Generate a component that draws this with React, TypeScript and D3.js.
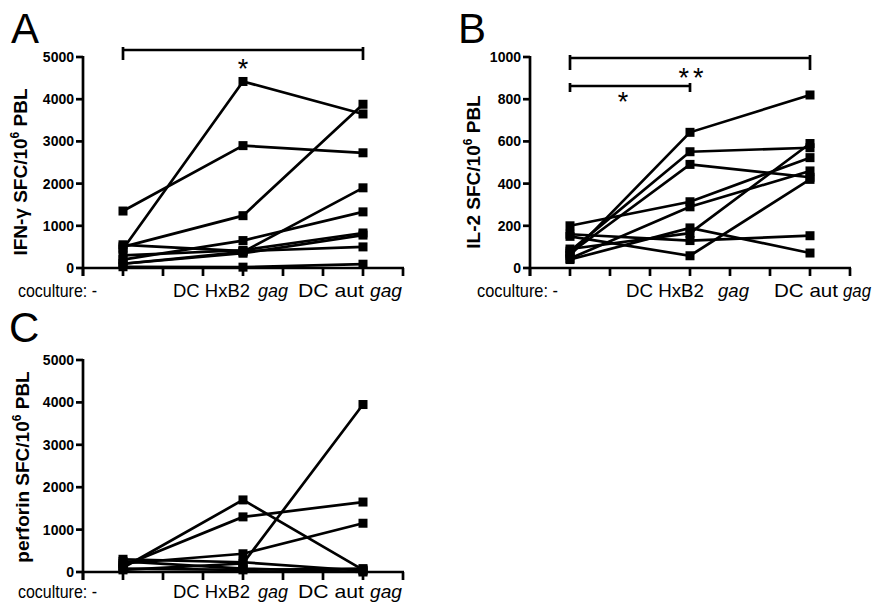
import React from "react";
import * as d3 from "d3";

// ---------- data ----------
const categoryPositions = [1, 4, 7];
const xTickValues = [0, 1, 2, 3, 4, 5, 6, 7, 8];

const ifnTicks = [0, 1000, 2000, 3000, 4000, 5000];
const il2Ticks = [0, 200, 400, 600, 800, 1000];
const perforinTicks = [0, 1000, 2000, 3000, 4000, 5000];

// each row: [coculture -, DC HxB2 gag, DC aut gag]
const ifnSeries = [
  [1350, 2900, 2730],
  [450, 4420, 3650],
  [500, 1240, 3880],
  [200, 650, 1330],
  [100, 380, 1900],
  [550, 400, 500],
  [300, 420, 830],
  [100, 350, 780],
  [30, 20, 90],
];

const il2Series = [
  [60, 643, 820],
  [80, 551, 570],
  [70, 491, 430],
  [200, 314, 523],
  [45, 290, 460],
  [40, 190, 71],
  [150, 58, 420],
  [160, 130, 153],
  [90, 165, 590],
];

const perforinSeries = [
  [100, 1700, 50],
  [150, 1300, 1650],
  [200, 430, 1150],
  [50, 200, 3950],
  [300, 230, 30],
  [250, 80, 0],
  [80, 50, 80],
];

const labelParts = [
  [{ t: "coculture: -", i: false }],
  [{ t: "DC HxB2", i: false }, { t: "gag", i: true }],
  [{ t: "DC aut", i: false }, { t: "gag", i: true }],
];

// ---------- layout ----------
const FONT = "'Liberation Sans', Arial, Helvetica, sans-serif";

type Bracket = { from: number; to: number; y: number; drop: number; label: string; lx: number; ly: number };

type PanelProps = {
  letter: string;
  letterX: number;
  letterY: number;
  x0: number;
  yTop: number;
  yBottom: number;
  ticks: number[];
  series: number[][];
  titleMain: string;
  titleX: number;
  titleY: number;
  labelBaseline: number;
  labelLayout: number[][][]; // [offset from category x, width]
  brackets: Bracket[];
};

function Panel(p: PanelProps) {
  const x = d3.scaleLinear().domain([0, 8]).range([p.x0, p.x0 + 320]);
  const yMax = p.ticks[p.ticks.length - 1];
  const y = d3.scaleLinear().domain([0, yMax]).range([p.yBottom, p.yTop]);
  const line = d3
    .line<number>()
    .x((_, i) => x(categoryPositions[i]))
    .y((d) => y(d));
  const sq = 9;
  const sw = 2.7;
  return (
    <g>
      <text x={p.letterX} y={p.letterY} fontSize={42} fontFamily={FONT}>
        {p.letter}
      </text>
      {/* y axis */}
      <line x1={p.x0} x2={p.x0} y1={p.yTop - 1} y2={p.yBottom + 8} stroke="#000" strokeWidth={sw} />
      {p.ticks.map((t) => (
        <g key={t}>
          <line x1={p.x0 - 7} x2={p.x0} y1={y(t)} y2={y(t)} stroke="#000" strokeWidth={sw} />
          <text
            x={p.x0 - 9}
            y={y(t)}
            dy="0.36em"
            textAnchor="end"
            fontSize={14}
            fontWeight="bold"
            fontFamily={FONT}
          >
            {t}
          </text>
        </g>
      ))}
      {/* x axis */}
      <line x1={p.x0} x2={x(8) + 1} y1={p.yBottom} y2={p.yBottom} stroke="#000" strokeWidth={sw} />
      {xTickValues.map((t) => (
        <line key={t} x1={x(t)} x2={x(t)} y1={p.yBottom} y2={p.yBottom + 8} stroke="#000" strokeWidth={sw} />
      ))}
      {/* axis title */}
      <text
        transform={`translate(${p.titleX},${p.titleY}) rotate(-90)`}
        textAnchor="middle"
        fontSize={19}
        fontWeight="bold"
        fontFamily={FONT}
      >
        {p.titleMain}
        <tspan fontSize={12} dy={-8}>6</tspan>
        <tspan dy={8}> PBL</tspan>
      </text>
      {/* category labels */}
      {labelParts.map((parts, ci) =>
        parts.map((part, pi) => (
          <text
            key={`${ci}-${pi}`}
            x={x(categoryPositions[ci]) + p.labelLayout[ci][pi][0]}
            y={p.labelBaseline}
            fontSize={19}
            fontStyle={part.i ? "italic" : "normal"}
            fontFamily={FONT}
            textLength={p.labelLayout[ci][pi][1]}
            lengthAdjust="spacingAndGlyphs"
          >
            {part.t}
          </text>
        ))
      )}
      {/* data */}
      {p.series.map((s, si) => (
        <path key={`l${si}`} d={line(s) || ""} fill="none" stroke="#000" strokeWidth={2.7} />
      ))}
      {p.series.map((s, si) =>
        s.map((v, i) => (
          <rect
            key={`r${si}-${i}`}
            x={x(categoryPositions[i]) - sq / 2}
            y={y(v) - sq / 2}
            width={sq}
            height={sq}
            fill="#000"
          />
        ))
      )}
      {/* significance brackets */}
      {p.brackets.map((b, bi) => {
        const xa = x(categoryPositions[b.from]);
        const xb = x(categoryPositions[b.to]);
        return (
          <g key={`b${bi}`}>
            <line x1={xa} x2={xb} y1={b.y} y2={b.y} stroke="#000" strokeWidth={2.7} />
            <line x1={xa} x2={xa} y1={b.y - 3} y2={b.y + b.drop} stroke="#000" strokeWidth={2.7} />
            <line x1={xb} x2={xb} y1={b.y - 3} y2={b.y + b.drop} stroke="#000" strokeWidth={2.7} />
            <text
              x={b.lx}
              y={b.ly}
              textAnchor="middle"
              fontSize={27}
              letterSpacing={b.label.length > 1 ? 4 : 0}
              fontFamily={FONT}
            >
              {b.label}
            </text>
          </g>
        );
      })}
    </g>
  );
}

export default function App() {
  return (
    <svg width={875} height={605} style={{ position: "absolute", left: 0, top: 0, background: "#fff" }}>
      <rect width={875} height={605} fill="#fff" />
      <Panel
        letter="A"
        letterX={11}
        letterY={43}
        x0={83}
        yTop={57}
        yBottom={268}
        ticks={ifnTicks}
        series={ifnSeries}
        titleMain="IFN-γ SFC/10"
        titleX={27}
        titleY={172}
        labelBaseline={297}
        labelLayout={[[[-105, 79]], [[-70, 77], [15, 30]], [[-65, 66], [7, 32]]]}
        brackets={[{ from: 0, to: 2, y: 50, drop: 10, label: "*", lx: 243, ly: 78 }]}
      />
      <Panel
        letter="B"
        letterX={458}
        letterY={43}
        x0={530}
        yTop={57}
        yBottom={268}
        ticks={il2Ticks}
        series={il2Series}
        titleMain="IL-2 SFC/10"
        titleX={480}
        titleY={172}
        labelBaseline={297}
        labelLayout={[[[-93, 81]], [[-64, 78], [28, 31]], [[-36, 64], [33, 28]]]}
        brackets={[
          { from: 0, to: 2, y: 58, drop: 12, label: "**", lx: 693, ly: 87 },
          { from: 0, to: 1, y: 86, drop: 6, label: "*", lx: 623, ly: 111 },
        ]}
      />
      <Panel
        letter="C"
        letterX={9}
        letterY={342}
        x0={83}
        yTop={360}
        yBottom={572}
        ticks={perforinTicks}
        series={perforinSeries}
        titleMain="perforin SFC/10"
        titleX={29}
        titleY={467}
        labelBaseline={598}
        labelLayout={[[[-105, 79]], [[-70, 77], [15, 30]], [[-65, 66], [7, 32]]]}
        brackets={[]}
      />
    </svg>
  );
}
